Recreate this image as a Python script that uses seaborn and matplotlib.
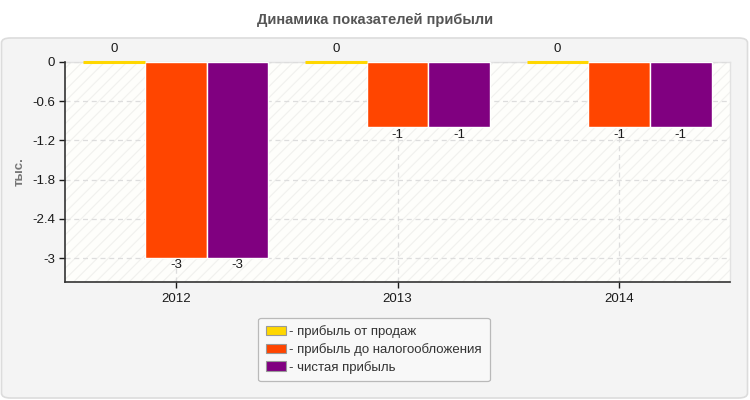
import matplotlib
matplotlib.use("Agg")
import matplotlib.pyplot as plt
from matplotlib.patches import FancyBboxPatch, Patch, Rectangle
import seaborn as sns
import pandas as pd

years = ["2012", "2013", "2014"]
series_names = ["прибыль от продаж", "прибыль до налогообложения", "чистая прибыль"]
sales_profit = [0, 0, 0]
pretax_profit = [-3, -1, -1]
net_profit = [-3, -1, -1]
colors = ["#FFD700", "#FF4500", "#800080"]
yticks = [0, -0.6, -1.2, -1.8, -2.4, -3]
ytick_labels = ["0", "-0.6", "-1.2", "-1.8", "-2.4", "-3"]

rows = []
for name, vals in zip(series_names, [sales_profit, pretax_profit, net_profit]):
    for y, v in zip(years, vals):
        rows.append({"year": y, "series": name, "value": v})
df = pd.DataFrame(rows)

sns.set_theme(style="white")
plt.rcParams["font.family"] = ["Liberation Sans", "DejaVu Sans"]
plt.rcParams["hatch.linewidth"] = 0.8

W, H = 750, 400
fig = plt.figure(figsize=(7.5, 4), dpi=100)
fig.patch.set_facecolor("white")

# outer panel
panel = FancyBboxPatch((1.5 / W, 2 / H), 746 / W, 360 / H,
                       boxstyle="round,pad=0,rounding_size=0.012",
                       transform=fig.transFigure, facecolor="#f4f4f4",
                       edgecolor="#dcdcdc", linewidth=1.2, zorder=-10)
fig.patches.append(panel)

fig.text(375 / W, 1 - 20 / H, "Динамика показателей прибыли", ha="center", va="center",
         fontsize=10.5, fontweight="bold", color="#555555")

ax = fig.add_axes([65 / W, 1 - 282 / H, 665 / W, 220 / H])
ax.set_facecolor("#fefefb")
ax.add_patch(Rectangle((0, 0), 1, 1, transform=ax.transAxes, facecolor="none",
                       edgecolor="#f1f1ee", linewidth=0, hatch="///", zorder=0.1))

sns.barplot(data=df, x="year", y="value", hue="series", hue_order=series_names,
            palette=colors, width=0.835, dodge=True, ax=ax, legend=False,
            edgecolor="white", linewidth=1, saturation=1, errorbar=None)

for i, cont in enumerate(ax.containers):
    for bar, v in zip(cont, df[df["series"] == series_names[i]]["value"]):
        x = bar.get_x() + bar.get_width() / 2
        if i == 0:
            bar.set_edgecolor(colors[0])
            bar.set_linewidth(2.2)
            bar.set_clip_on(False)
            bar.set_zorder(3)
            ax.annotate(f"{v:g}", (x, 0), xytext=(0, 5), textcoords="offset points",
                        ha="center", va="bottom", fontsize=9.5, color="#1a1a1a")
        else:
            ax.annotate(f"{v:g}", (x, v), xytext=(0, -1), textcoords="offset points",
                        ha="center", va="top", fontsize=9.5, color="#1a1a1a")

ax.set_ylim(-3.367, 0)
ax.set_xlim(-0.5, 2.5)
ax.set_yticks(yticks)
ax.set_yticklabels(ytick_labels)
ax.tick_params(axis="both", labelsize=9.5, colors="#1a1a1a", length=4, width=1,
               direction="out", left=True, bottom=True)
ax.tick_params(axis="x", pad=4)
ax.tick_params(axis="y", pad=3)
ax.set_xlabel("")
ax.set_ylabel("тыс.", fontsize=9.5, fontweight="bold", color="#777777", labelpad=5)
ax.grid(True, axis="both", linestyle=(0, (4, 3)), color="#dddddd", linewidth=0.9)
ax.set_axisbelow(True)
for s in ["left", "bottom"]:
    ax.spines[s].set_color("#333333")
    ax.spines[s].set_linewidth(1.2)
for s in ["top", "right"]:
    ax.spines[s].set_color("#e2e2e2")
    ax.spines[s].set_linewidth(1)
    ax.spines[s].set_zorder(0.5)

handles = [Patch(facecolor=c, edgecolor="#999999", linewidth=0.8) for c in colors]
labels = ["- " + n for n in series_names]
leg = fig.legend(handles, labels, loc="center", bbox_to_anchor=(374 / W, 1 - 349.5 / H),
                 fontsize=9.5, frameon=True, handlelength=1.5, handleheight=0.7,
                 handletextpad=0.25, labelspacing=0.35, borderpad=0.6, fancybox=True)
leg.get_frame().set_facecolor("#fafafa")
leg.get_frame().set_edgecolor("#aaaaaa")
leg.get_frame().set_linewidth(0.9)
for t in leg.get_texts():
    t.set_color("#333333")

fig.savefig("out.png", dpi=100)
